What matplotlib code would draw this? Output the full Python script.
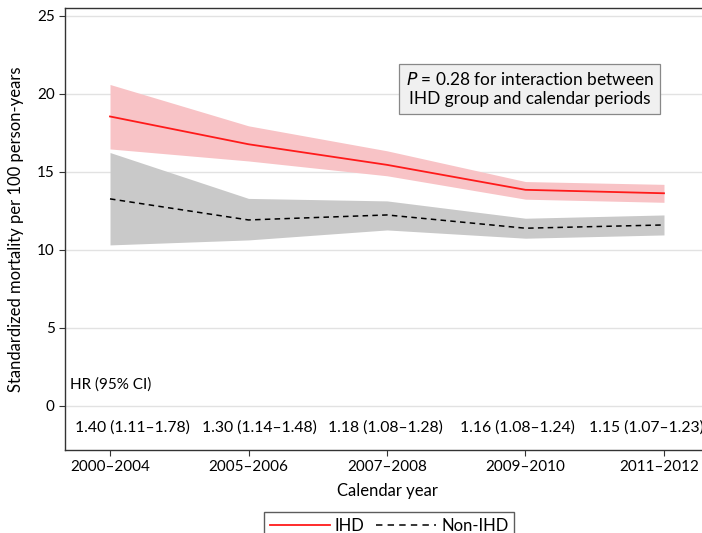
import matplotlib
matplotlib.use("Agg")
import matplotlib.pyplot as plt
from matplotlib.lines import Line2D
from matplotlib.transforms import ScaledTranslation

plt.rcParams['font.family'] = ['Lato', 'DejaVu Sans']

periods = ["2000–2004", "2005–2006", "2007–2008", "2009–2010", "2011–2012"]

ihd_rate = [18.55, 16.77, 15.45, 13.85, 13.63]
ihd_low = [16.47, 15.70, 14.75, 13.25, 13.05]
ihd_high = [20.60, 17.95, 16.35, 14.38, 14.20]

non_rate = [13.27, 11.92, 12.24, 11.39, 11.60]
non_low = [10.32, 10.64, 11.28, 10.75, 10.96]
non_high = [16.24, 13.30, 13.14, 12.03, 12.24]

hr_labels = ["1.40 (1.11–1.78)", "1.30 (1.14–1.48)", "1.18 (1.08–1.28)",
             "1.16 (1.08–1.24)", "1.15 (1.07–1.23)"]
hr_xpos = [0.16, 1.08, 1.99, 2.94, 3.87]

fig = plt.figure(figsize=(7.02, 5.33), dpi=100)
ax = fig.add_axes([65 / 702, 1 - 450 / 533, 644 / 702, 442 / 533])

x = list(range(len(periods)))
dash = (0, (3.6, 2.8))

ax.fill_between(x, non_low, non_high, color="#c9c9c9", lw=0, zorder=2)
ax.fill_between(x, ihd_low, ihd_high, color="#f8c3c6", lw=0, zorder=3)
ax.plot(x, non_rate, color="black", lw=1.1, ls=dash, zorder=4)
ax.plot(x, ihd_rate, color="#ff1a1a", lw=1.3, zorder=5)

ax.set_xlim(-0.325, 4.325)
ax.set_ylim(-2.82, 25.5)
ax.set_yticks([0, 5, 10, 15, 20, 25])
ax.set_xticks(x)
ax.set_xticklabels(periods)
ax.tick_params(axis="both", labelsize=11, length=4, width=0.8, color="#333333")
# nudge the last period label inward so it stays inside the figure
last = ax.get_xticklabels()[-1]
last.set_transform(last.get_transform() + ScaledTranslation(-5 / 100, 0, fig.dpi_scale_trans))
ax.yaxis.grid(True, color="#e2e2e2", lw=1.0)
ax.set_axisbelow(True)
for s in ax.spines.values():
    s.set_color("#333333")
    s.set_linewidth(1.0)

ax.set_xlabel("Calendar year", fontsize=12, labelpad=6)
ax.set_ylabel("Standardized mortality per 100 person-years", fontsize=12, labelpad=9)

ax.text(-0.29, 1.35, "HR (95% CI)", fontsize=11, va="center", ha="left")
for xp, lab in zip(hr_xpos, hr_labels):
    ax.text(xp, -1.35, lab, fontsize=11.3, va="center", ha="center")

ax.text(3.03, 20.3, "$\\it{P}$ = 0.28 for interaction between\nIHD group and calendar periods",
        fontsize=12.4, ha="center", va="center", linespacing=1.25,
        bbox=dict(boxstyle="square,pad=0.4", fc="#f0f0f0", ec="#888888", lw=0.9),
        zorder=6)

handles = [Line2D([], [], color="#ff1a1a", lw=1.3),
           Line2D([], [], color="black", lw=1.1, ls=(0, (4.2, 3.4)))]
fig.legend(handles, ["IHD", "Non-IHD"], loc="center", bbox_to_anchor=(389 / 702, 1 - 526 / 533),
           ncol=2, fontsize=12, frameon=True, fancybox=False, edgecolor="#333333",
           handlelength=3.6, columnspacing=0.7, handletextpad=0.3, borderpad=0.35)

fig.savefig("out.png", dpi=100)
